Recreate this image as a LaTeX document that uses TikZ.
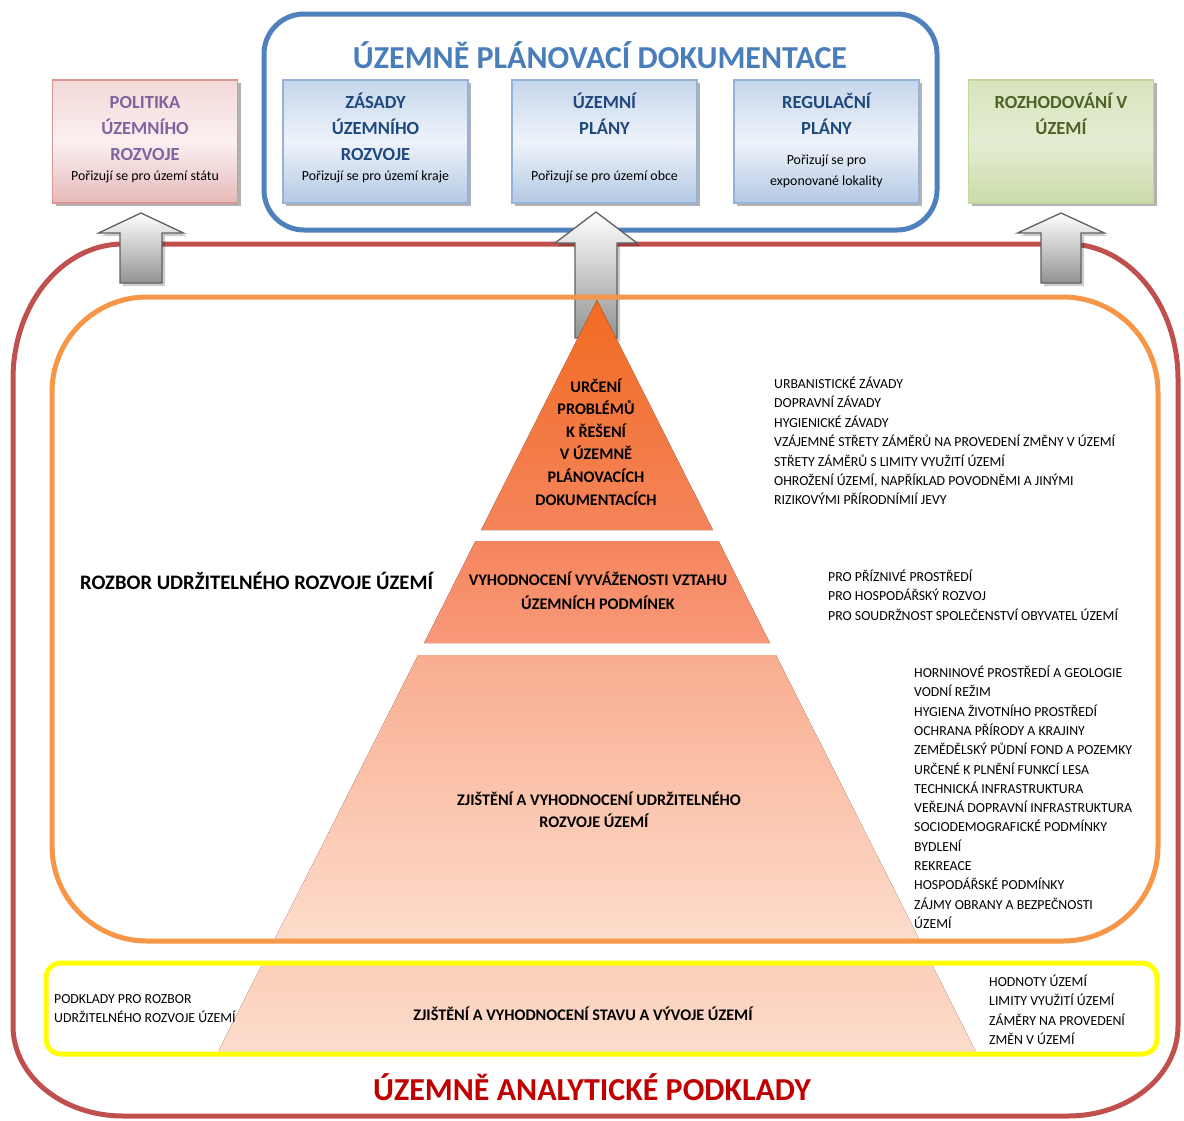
\documentclass[tikz,border=0pt]{standalone}
\usepackage{fontspec}
\setmainfont{Carlito}
\usetikzlibrary{shadows}
\definecolor{redframe}{HTML}{C0504D}
\definecolor{orangeframe}{HTML}{F79646}
\definecolor{blueframe}{HTML}{4F81BD}
\definecolor{yellowframe}{HTML}{FFFF00}
\definecolor{titleblue}{HTML}{4A7EBB}
\definecolor{titlered}{HTML}{C00000}
\definecolor{boxblue}{HTML}{1F497D}
\definecolor{boxpurple}{HTML}{8064A2}
\definecolor{boxolive}{HTML}{4F6228}
\definecolor{pinkborder}{HTML}{D99694}
\definecolor{pinktop}{HTML}{F4D8D8}
\definecolor{pinkmid}{HTML}{FBF0F0}
\definecolor{pinkbot}{HTML}{E6B9B8}
\definecolor{blueborder}{HTML}{95B3D7}
\definecolor{bluetop}{HTML}{C6D6EB}
\definecolor{bluemid}{HTML}{EEF3FA}
\definecolor{bluebot}{HTML}{B3C8E3}
\definecolor{greenborder}{HTML}{C3D69B}
\definecolor{greentop}{HTML}{D7E4BD}
\definecolor{greenmid}{HTML}{E4EDD2}
\definecolor{greenbot}{HTML}{CBDBA9}
\definecolor{arrowborder}{HTML}{606060}
\definecolor{tieronetop}{HTML}{F26A21}
\definecolor{tieronebot}{HTML}{F4845B}
\definecolor{tiertwotop}{HTML}{F5855D}
\definecolor{tiertwobot}{HTML}{F8997A}
\definecolor{tierthreetop}{HTML}{F9AD90}
\definecolor{tierthreebot}{HTML}{FDDCCB}
\definecolor{tierfourtop}{HTML}{FBCFBA}
\definecolor{tierfourbot}{HTML}{FDDCCC}
\begin{document}
\begin{tikzpicture}[x=1pt,y=-1pt,
  lbl/.style={anchor=base, inner sep=0pt},
  docbox/.style={draw=#1border, line width=1.2pt, minimum width=185pt, minimum height=123pt,
    top color=#1top, bottom color=#1bot, middle color=#1mid, inner sep=0pt,
    drop shadow={shadow xshift=3pt, shadow yshift=-3pt, fill=black, opacity=0.3}},
  boxtitle/.style={lbl, font=\fontsize{18.5}{22}\selectfont\bfseries},
  boxsub/.style={lbl, font=\fontsize{13.9}{16}\selectfont},
  blockarrow/.style={draw=arrowborder, line width=1.3pt, top color=white, bottom color=gray!85,
    drop shadow={shadow xshift=3pt, shadow yshift=-3pt, fill=black, opacity=0.2}},
  listtxt/.style={anchor=base west, inner sep=0pt, font=\fontsize{13.8}{16}\selectfont},
  tiertxt/.style={lbl, font=\fontsize{16.2}{19}\selectfont\bfseries},
  bigframe/.style={line width=5pt}
]
\useasboundingbox (0,0) rectangle (1184,1120);

% ---------- blue frame with documentation boxes ----------
\draw[bigframe, draw=blueframe, rounded corners=40pt] (264,14) rectangle (937,230);
\node[lbl, text=titleblue, font=\fontsize{32}{36}\selectfont\bfseries] (updtitle) at (600,68) {ÚZEMNĚ PLÁNOVACÍ DOKUMENTACE};

\node[docbox=pink] (politika) at (145,141.5) {};
\node[docbox=blue] (zasady) at (375.5,141.5) {};
\node[docbox=blue] (uzplany) at (604.5,141.5) {};
\node[docbox=blue] (regplany) at (826.5,141.5) {};
\node[docbox=green] (rozhod) at (1061,141.5) {};

\node[boxtitle, text=boxpurple] (pol1) at (145,108) {POLITIKA};
\node[boxtitle, text=boxpurple] (pol2) at (145,134) {ÚZEMNÍHO};
\node[boxtitle, text=boxpurple] (pol3) at (145,160) {ROZVOJE};
\node[boxsub] (pol4) at (145,180) {Pořizují se pro území státu};

\node[boxtitle, text=boxblue] (zas1) at (375.5,108) {ZÁSADY};
\node[boxtitle, text=boxblue] (zas2) at (375.5,134) {ÚZEMNÍHO};
\node[boxtitle, text=boxblue] (zas3) at (375.5,160) {ROZVOJE};
\node[boxsub] (zas4) at (375.5,180) {Pořizují se pro území kraje};

\node[boxtitle, text=boxblue] (uzp1) at (604.5,108) {ÚZEMNÍ};
\node[boxtitle, text=boxblue] (uzp2) at (604.5,134) {PLÁNY};
\node[boxsub] (uzp3) at (604.5,180) {Pořizují se pro území obce};

\node[boxtitle, text=boxblue] (reg1) at (826.5,108) {REGULAČNÍ};
\node[boxtitle, text=boxblue] (reg2) at (826.5,134) {PLÁNY};
\node[boxsub] (reg3) at (826.5,164) {Pořizují se pro};
\node[boxsub] (reg4) at (826.5,185) {exponované lokality};

\node[boxtitle, text=boxolive] (roz1) at (1061,108) {ROZHODOVÁNÍ V};
\node[boxtitle, text=boxolive] (roz2) at (1061,134) {ÚZEMÍ};

% ---------- red frame ----------
\draw[bigframe, draw=redframe] (123,244) -- (1068,244) arc (-90:0:110 and 135) -- (1178,1026)
  arc (0:90:110 and 90) -- (123,1116) arc (90:180:110 and 90) -- (13,379) arc (180:270:110 and 135) -- cycle;

% ---------- block arrows ----------
\coordinate (tipL) at (141,213);
\coordinate (tipC) at (596,212);
\coordinate (tipR) at (1061,213);
\path[blockarrow] (tipL) -- ++(42.5,20) -- ++(-21.5,0) -- ++(0,50) -- ++(-42,0) -- ++(0,-50) -- ++(-21.5,0) -- cycle;
\path[blockarrow] (tipR) -- ++(43.5,20) -- ++(-23.5,0) -- ++(0,50) -- ++(-40,0) -- ++(0,-50) -- ++(-23.5,0) -- cycle;
\path[blockarrow] (tipC) -- ++(41,31) -- ++(-20,0) -- ++(0,95) -- ++(-42,0) -- ++(0,-95) -- ++(-20,0) -- cycle;

% ---------- pyramid ----------
\fill[top color=tieronetop, bottom color=tieronebot] (597,300) -- (712.9,530) -- (481.1,530) -- cycle;
\fill[top color=tiertwotop, bottom color=tiertwobot] (475.5,541) -- (718.5,541) -- (769.9,643) -- (424.1,643) -- cycle;
\fill[top color=tierthreetop, bottom color=tierthreebot] (418.1,655) -- (775.9,655) -- (919.1,939) -- (274.9,939) -- cycle;
\fill[top color=tierfourtop, bottom color=tierfourbot] (261.8,965) -- (932.2,965) -- (975.5,1051) -- (218.5,1051) -- cycle;

% ---------- orange and yellow frames ----------
\draw[bigframe, draw=orangeframe, rounded corners=95pt] (52,297) rectangle (1158,941);
\draw[line width=5pt, draw=yellowframe, rounded corners=15pt] (46,963) rectangle (1157,1054);

% ---------- pyramid texts ----------
\foreach \t [count=\i from 0] in {URČENÍ, PROBLÉMŮ, K ŘEŠENÍ, V ÚZEMNĚ, PLÁNOVACÍCH, DOKUMENTACÍCH}
  \node[tiertxt] (ta\i) at (596,{392+22.6*\i}) {\t};
\node[tiertxt] (tb0) at (598,585) {VYHODNOCENÍ VYVÁŽENOSTI VZTAHU};
\node[tiertxt] (tb1) at (598,609) {ÚZEMNÍCH PODMÍNEK};
\node[tiertxt] (tc0) at (599,805) {ZJIŠTĚNÍ A VYHODNOCENÍ UDRŽITELNÉHO};
\node[tiertxt] (tc1) at (594,827) {ROZVOJE ÚZEMÍ};
\node[tiertxt] (td0) at (583,1020) {ZJIŠTĚNÍ A VYHODNOCENÍ STAVU A VÝVOJE ÚZEMÍ};

\node[anchor=base west, inner sep=0pt, font=\fontsize{20.6}{24}\selectfont\bfseries] (rozbor) at (80,589.5) {ROZBOR UDRŽITELNÉHO ROZVOJE ÚZEMÍ};

% ---------- lists ----------
\foreach \t [count=\i from 0] in {URBANISTICKÉ ZÁVADY, DOPRAVNÍ ZÁVADY, HYGIENICKÉ ZÁVADY,
  VZÁJEMNÉ STŘETY ZÁMĚRŮ NA PROVEDENÍ ZMĚNY V ÚZEMÍ, STŘETY ZÁMĚRŮ S LIMITY VYUŽITÍ ÚZEMÍ,
  {OHROŽENÍ ÚZEMÍ, NAPŘÍKLAD POVODNĚMI A JINÝMI}, RIZIKOVÝMI PŘÍRODNÍMIÍ JEVY}
  \node[listtxt] (la\i) at (774,{388.5+19.4*\i}) {\t};
\foreach \t [count=\i from 0] in {PRO PŘÍZNIVÉ PROSTŘEDÍ, PRO HOSPODÁŘSKÝ ROZVOJ, PRO SOUDRŽNOST SPOLEČENSTVÍ OBYVATEL ÚZEMÍ}
  \node[listtxt] (lb\i) at (828,{581.5+19.4*\i}) {\t};
\foreach \t [count=\i from 0] in {HORNINOVÉ PROSTŘEDÍ A GEOLOGIE, VODNÍ REŽIM, HYGIENA ŽIVOTNÍHO PROSTŘEDÍ,
  OCHRANA PŘÍRODY A KRAJINY, ZEMĚDĚLSKÝ PŮDNÍ FOND A POZEMKY, URČENÉ K PLNĚNÍ FUNKCÍ LESA,
  TECHNICKÁ INFRASTRUKTURA, VEŘEJNÁ DOPRAVNÍ INFRASTRUKTURA, SOCIODEMOGRAFICKÉ PODMÍNKY,
  BYDLENÍ, REKREACE, HOSPODÁŘSKÉ PODMÍNKY, ZÁJMY OBRANY A BEZPEČNOSTI, ÚZEMÍ}
  \node[listtxt] (lc\i) at (914,{677.5+19.3*\i}) {\t};
\foreach \t [count=\i from 0] in {HODNOTY ÚZEMÍ, LIMITY VYUŽITÍ ÚZEMÍ, ZÁMĚRY NA PROVEDENÍ, ZMĚN V ÚZEMÍ}
  \node[listtxt] (ld\i) at (989,{986.5+19.4*\i}) {\t};
\node[listtxt] (le0) at (54,1003.5) {PODKLADY PRO ROZBOR};
\node[listtxt] (le1) at (54,1022.5) {UDRŽITELNÉHO ROZVOJE ÚZEMÍ};

% ---------- bottom title ----------
\node[lbl, text=titlered, font=\fontsize{32}{36}\selectfont\bfseries] (uaptitle) at (592,1100) {ÚZEMNĚ ANALYTICKÉ PODKLADY};
\end{tikzpicture}
\end{document}
